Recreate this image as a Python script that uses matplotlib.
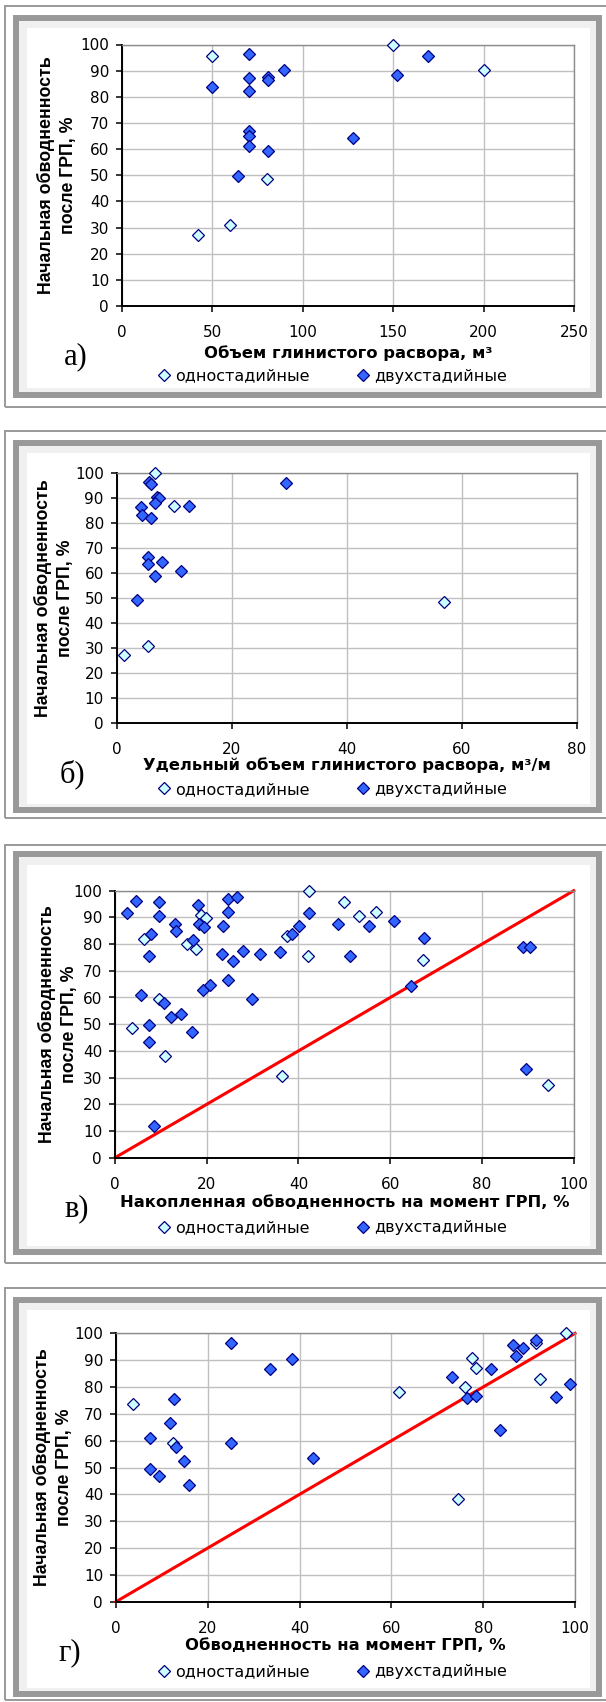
import matplotlib
matplotlib.use("Agg")
import matplotlib.pyplot as plt
from matplotlib.patches import Rectangle
from matplotlib.lines import Line2D

# ---- данные ----
# а) объем глинистого раствора, м3
a_single_x = [50, 150, 42, 60, 80, 200]
a_single_y = [95.5, 100, 27.2, 30.8, 48.5, 90.3]
a_double_x = [70, 70, 80.5, 80.5, 89.5, 50, 70, 70, 70, 70, 80.5, 64, 128, 152, 169]
a_double_y = [96.4, 87.2, 87.4, 86.6, 90.3, 83.6, 82.2, 66.8, 65, 61.2, 59.4, 49.7, 64.2, 88.5, 95.7]

# б) удельный объем, м3/м
b_single_x = [6.7, 10.0, 5.5, 1.2, 57.0]
b_single_y = [100, 87.1, 30.9, 27.3, 48.6]
b_double_x = [5.7, 6.0, 7.0, 7.3, 6.6, 12.6, 4.2, 4.4, 6.0, 5.4, 5.4, 7.8, 11.1, 6.6, 3.6, 29.4]
b_double_y = [96.4, 95.6, 90.4, 90.2, 88.3, 87.1, 86.5, 83.3, 82.3, 66.5, 63.9, 64.6, 60.9, 59.1, 49.3, 96.3]

# в) накопленная обводненность на момент ГРП, %
c_single_x = [6.3, 15.7, 17.7, 18.7, 19.9, 37.5, 42.2, 42.0, 50.0, 9.6, 3.8, 10.8, 36.4, 53.1, 56.8, 67.1, 94.5]
c_single_y = [81.8, 79.9, 78.2, 91.0, 89.6, 83.0, 100, 75.7, 95.8, 59.6, 48.4, 38.1, 30.7, 90.5, 92.0, 74.0, 27.1]
c_double_x = [2.7, 4.6, 9.6, 9.6, 18.0, 24.6, 26.5, 24.6, 13.0, 13.3, 7.9, 7.5, 17.0, 18.3, 19.3,
              23.5, 23.3, 25.7, 27.9, 31.7, 36.0, 38.6, 40.1, 42.2, 48.6, 51.3, 24.6, 19.2, 20.7,
              29.8, 5.6, 10.7, 12.1, 14.4, 16.7, 7.5, 7.5, 8.5, 55.3, 60.8, 67.4, 64.5, 89.0, 90.5, 89.5]
c_double_y = [91.5, 96.3, 95.8, 90.5, 94.5, 97.0, 97.8, 92.1, 87.4, 84.9, 83.8, 75.7, 81.4, 87.4, 86.5,
              86.8, 76.3, 73.8, 77.5, 76.3, 76.9, 83.6, 86.8, 91.5, 87.4, 75.7, 66.5, 62.8, 64.7,
              59.3, 61.0, 57.9, 52.6, 53.8, 47.1, 49.7, 43.4, 11.9, 86.6, 88.5, 82.4, 64.2, 78.8, 78.8, 33.1]

# г) обводненность на момент ГРП, %
d_single_x = [3.8, 12.5, 61.7, 77.6, 78.4, 76.1, 74.6, 91.6, 92.4, 98.1]
d_single_y = [73.8, 59.3, 78.1, 90.9, 87.2, 79.9, 38.4, 96.3, 83.0, 100]
d_double_x = [12.7, 11.8, 7.3, 13.0, 14.9, 7.3, 9.3, 15.9, 25.1, 25.1, 33.6, 38.3, 43.0, 73.1,
              76.4, 78.4, 81.8, 83.7, 86.6, 88.6, 87.1, 91.6, 95.9, 98.9]
d_double_y = [75.7, 66.5, 61.0, 57.8, 52.3, 49.4, 47.0, 43.4, 96.4, 59.0, 86.6, 90.3, 53.7, 83.6,
              76.0, 76.8, 86.6, 64.1, 95.8, 94.5, 91.6, 97.6, 76.3, 81.2]

diag = [0, 100]

ylabel_text = "Начальная обводненность\nпосле ГРП, %"
legend_labels = ["одностадийные", "двухстадийные"]
letters = ["а)", "б)", "в)", "г)"]
xlabels = ["Объем глинистого расвора, м³",
           "Удельный объем глинистого расвора, м³/м",
           "Накопленная обводненность на момент ГРП, %",
           "Обводненность на момент ГРП, %"]
xmax = [250, 80, 100, 100]
xstep = [50, 20, 20, 20]

W, H = 606, 1702
fig = plt.figure(figsize=(W / 100, H / 100), dpi=100)


def frac(l, t, r, b):
    return [l / W, 1 - b / H, (r - l) / W, (b - t) / H]


def rect(l, t, r, b, **kw):
    x, y, w, h = frac(l, t, r, b)
    fig.patches.append(Rectangle((x, y), w, h, transform=fig.transFigure, zorder=-5, **kw))


# layout in pixels: axes (l, t, r, b), frames, label offsets
panels = [
    dict(ax=(122, 44.5, 574, 306), thin=(6, 407), thick=(17.5, 394.5), yl=57, let=64, xl=47, lg=70),
    dict(ax=(116.7, 473.3, 576.7, 723.3), thin=(431, 818), thick=(442.5, 810), yl=54, let=60, xl=42, lg=66),
    dict(ax=(115, 890.7, 573.7, 1157.7), thin=(845, 1263), thick=(854, 1252), yl=58, let=64, xl=45, lg=70),
    dict(ax=(116, 1333.3, 575, 1601.7), thin=(1288, 1700), thick=(1299.5, 1694), yl=53, let=58, xl=44, lg=70),
]
series = [
    (a_single_x, a_single_y, a_double_x, a_double_y),
    (b_single_x, b_single_y, b_double_x, b_double_y),
    (c_single_x, c_single_y, c_double_x, c_double_y),
    (d_single_x, d_single_y, d_double_x, d_double_y),
]

light = dict(marker="D", ms=5.7, mfc="#ccffff", mec="#000080", mew=0.9, ls="none")
dark = dict(marker="D", ms=5.7, mfc="#3366ff", mec="#000080", mew=0.9, ls="none")

for i, p in enumerate(panels):
    l, t, r, b = p["ax"]
    # рамки
    rect(5, p["thin"][0], 614, p["thin"][1], fill=False, ec="#999999", lw=1.4)
    rect(16, p["thick"][0], 599, p["thick"][1], fc="#f0f0f0", ec="#999999", lw=4.3)
    rect(27, p["thick"][0] + 10.5, 590, p["thick"][1] - 6.5, fc="white", ec="none")

    ax = fig.add_axes(frac(l, t, r, b))
    ax.set_facecolor("white")
    sx, sy, dx, dy = series[i]
    if i >= 2:
        ax.plot(diag, diag, color="red", lw=2.2, zorder=2, clip_on=False)
    ax.plot(sx, sy, zorder=3, clip_on=False, **light)
    ax.plot(dx, dy, zorder=4, clip_on=False, **dark)

    ax.set_xlim(0, xmax[i])
    ax.set_ylim(0, 100)
    ax.set_xticks(range(0, xmax[i] + 1, xstep[i]))
    ax.set_yticks(range(0, 101, 10))
    ax.grid(True, color="#c0c0c0", lw=1.0)
    ax.set_axisbelow(True)
    for s in ["top", "right"]:
        ax.spines[s].set_color("#8c8c8c")
        ax.spines[s].set_linewidth(1.0)
    for s in ["left", "bottom"]:
        ax.spines[s].set_color("black")
        ax.spines[s].set_linewidth(1.4)
    ax.tick_params(direction="out", length=4.3, width=1.1, labelsize=11)
    ax.tick_params(axis="x", pad=9.5)
    ax.tick_params(axis="y", pad=5)

    yc = 1 - (t + b) / 2 / H
    fig.text(p["yl"] / W, yc, ylabel_text, rotation=90, ha="center", va="center",
             multialignment="center", family="Liberation Sans", weight="bold",
             fontsize=12.8, linespacing=1.45)
    fig.text((l + r) / 2 / W, 1 - (b + p["xl"]) / H, xlabels[i], ha="center", va="center",
             family="DejaVu Sans", weight="bold", fontsize=11.8)
    fig.text(p["let"] / W, 1 - (b + 51) / H, letters[i], ha="left", va="center",
             family="Liberation Serif", fontsize=22)

    handles = [Line2D([], [], **light), Line2D([], [], **dark)]
    ax.legend(handles, legend_labels, ncol=2, loc="center",
              bbox_to_anchor=(333 / W, 1 - (b + p["lg"]) / H), bbox_transform=fig.transFigure,
              frameon=False, handlelength=0.7, handletextpad=0.35, columnspacing=3.0,
              fontsize=11.5, borderpad=0, borderaxespad=0)

fig.savefig("out.png", dpi=100)
